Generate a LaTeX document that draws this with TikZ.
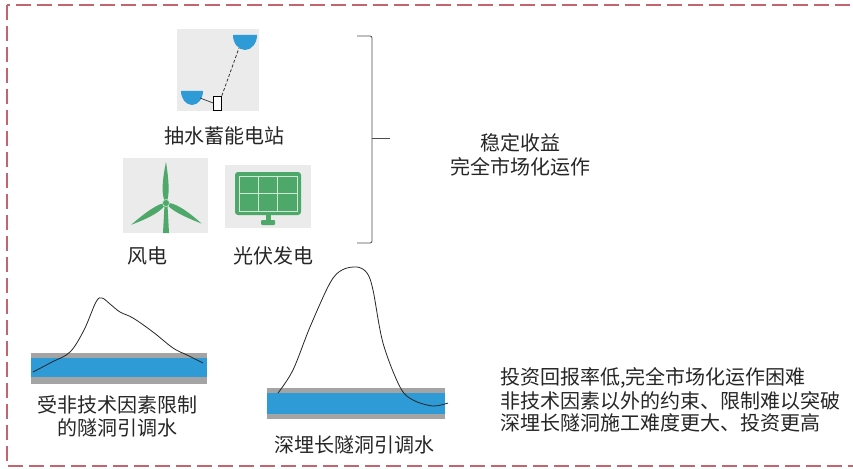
\documentclass[tikz,border=0pt]{standalone}
\usepackage{fontspec}
\setmainfont{Noto Sans CJK SC}
\usetikzlibrary{positioning}
\definecolor{frame}{HTML}{C4646E}
\definecolor{iconbg}{HTML}{EBEBEB}
\definecolor{waterblue}{HTML}{2E9AD6}
\definecolor{rockgray}{HTML}{A4A4A4}
\definecolor{leaf}{HTML}{4DA86A}
\definecolor{leaflight}{HTML}{CDE9D5}

\begin{document}
\begin{tikzpicture}[x=1pt,y=-1pt,
		txt/.style={inner sep=0pt,font=\fontsize{20}{24}\selectfont,text=black!85},
		iconbox/.style={fill=iconbg,inner sep=0pt,anchor=north west},
		tunnelrock/.style={fill=rockgray},
		tunnelwater/.style={fill=waterblue},
		ridge/.style={black!85,line width=0.8pt,line join=round}]
		\useasboundingbox (0,0) rectangle (853,468);
		\draw[frame,line width=1.3pt,dash pattern=on 15pt off 6pt] (7,5) rectangle (860,466);

		% pumped storage
		\node[iconbox,minimum width=82pt,minimum height=82pt] (pumpbox) at (177,29) {};
		\fill[waterblue] (233,35) arc[start angle=180,end angle=0,x radius=12,y radius=15] -- cycle;
		\fill[waterblue] (181,91) arc[start angle=180,end angle=0,x radius=11,y radius=14] -- cycle;
		\coordinate (upres) at (239,48);
		\coordinate (lowres) at (200,98);
		\node[draw=black,fill=white,line width=0.7pt,minimum width=8pt,minimum height=14pt,inner sep=0pt] (house) at (217.5,103) {};
		\draw[black!80,line width=0.7pt] (lowres) -- (house.west);
		\draw[black!80,line width=0.8pt,densely dashed] (house.north east) -- (upres);
		\node[txt] (pumplbl) at (224,136) {抽水蓄能电站};

		% wind
		\node[iconbox,minimum width=85pt,minimum height=75pt] (windbox) at (123,158) {};
		\fill[leaf] (164.5,205) -- (163,233) -- (169,233) -- (167.5,205) -- cycle;
		\foreach \a in {90,212,330}
			\fill[leaf,shift={(166,203)},rotate=\a] (0,0) .. controls (6,-5) and (22,-4) .. (41,0) .. controls (22,3) and (6,4) .. cycle;
		\fill[leaf,draw=leaflight,line width=0.6pt] (166,203) circle[radius=3.5];
		\node[txt] (windlbl) at (147,256) {风电};

		% solar
		\node[iconbox,minimum width=86pt,minimum height=63pt] (solarbox) at (225,165) {};
		\fill[leaf,rounded corners=3pt] (235,172) rectangle (301,215);
		\draw[leaflight,line width=0.9pt] (239,176) rectangle (297,211)
			(258.3,176) -- (258.3,211) (277.7,176) -- (277.7,211) (239,193.5) -- (297,193.5);
		\fill[leaf] (265.5,215) rectangle (270.5,221);
		\fill[leaf,rounded corners=1pt] (261,220) rectangle (275,225);
		\node[txt] (solarlbl) at (273,256) {光伏发电};

		% brace
		\coordinate (bracetop) at (357,36);
		\coordinate (bracebot) at (357,243);
		\coordinate (bracetip) at (390,138);
		\draw[black!70,line width=0.8pt,rounded corners=2pt] (bracetop) -- (372,36) -- (372,243) -- (bracebot);
		\draw[black!70,line width=0.8pt] (372,138) -- (bracetip);
		\node[txt] (gain) at (520,143) {稳定收益};
		\node[txt,below=5pt of gain] (market) {完全市场化运作};

		% shallow tunnel
		\fill[tunnelrock] (31,353) rectangle (207,384);
		\fill[tunnelwater] (31,358) rectangle (207,377);
		\draw[ridge] plot[smooth,tension=0.6] coordinates {(33,372) (52,362) (70,352) (84,330) (96,302) (102,298) (110,304) (120,312) (133,318) (153,332) (173,348) (187,355) (203,363)};
		\node[txt] (shallow1) at (117,405) {受非技术因素限制};
		\node[txt,below=4pt of shallow1] (shallow2) {的隧洞引调水};

		% deep tunnel
		\fill[tunnelrock] (267,388) rectangle (445,419);
		\fill[tunnelwater] (267,393) rectangle (445,414);
		\draw[ridge] plot[smooth,tension=0.55] coordinates {(278,393) (293,370) (310,327) (330,283) (342,270) (357,267) (367,273) (373,290) (383,343) (400,387) (413,400) (433,406) (448,403)};
		\node[txt] (deep) at (354,445) {深埋长隧洞引调水};

		% remarks
		\node[txt,anchor=west] (note1) at (500,378) {投资回报率低,完全市场化运作困难};
		\node[txt,below=3pt of note1.south west,anchor=north west] (note2) {非技术因素以外的约束、限制难以突破};
		\node[txt,below=3pt of note2.south west,anchor=north west] (note3) {深埋长隧洞施工难度更大、投资更高};
\end{tikzpicture}
\end{document}
